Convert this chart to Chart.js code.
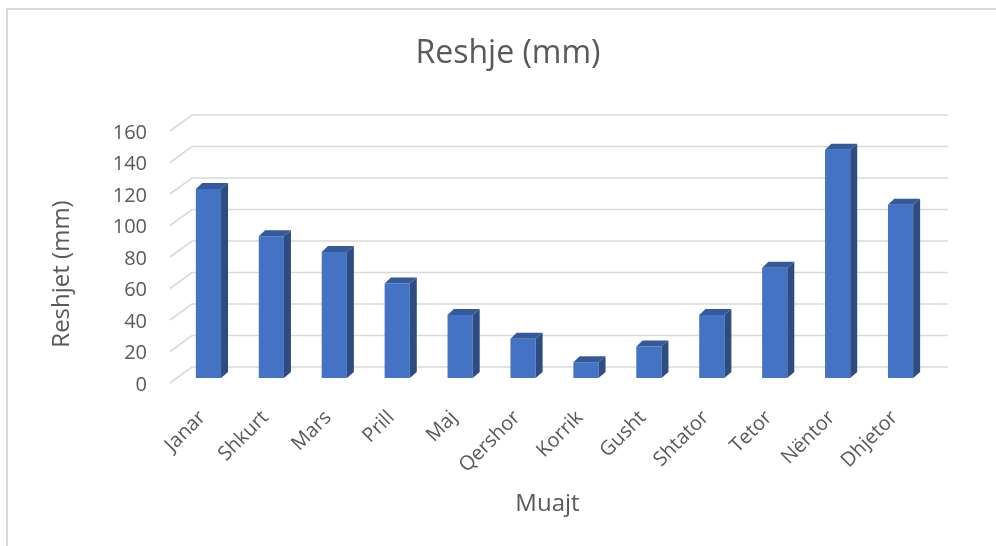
<!DOCTYPE html>
<html>
<head>
<meta charset="utf-8">
<script src="https://cdn.jsdelivr.net/npm/chart.js@4.4.1/dist/chart.umd.min.js"></script>
<style>
html, body { margin: 0; padding: 0; background: #fff; overflow: hidden; }
#kuadri { position: absolute; left: 6px; top: 8px; width: 1100px; height: 700px; border: 2px solid #d9d9d9; }
#grafiku { position: absolute; left: 0; top: 0; }
</style>
</head>
<body>
<div id="kuadri"></div>
<canvas id="grafiku" width="996" height="546"></canvas>
<script>
// Të dhënat
const muajt = ['Janar', 'Shkurt', 'Mars', 'Prill', 'Maj', 'Qershor', 'Korrik', 'Gusht', 'Shtator', 'Tetor', 'Nëntor', 'Dhjetor'];
const reshjet = [120, 90, 80, 60, 40, 25, 10, 20, 40, 70, 145, 110];
const shkallaY = [0, 20, 40, 60, 80, 100, 120, 140, 160];

const titulliX = 'Muajt';
const titulliY = 'Reshjet (mm)';
const ngjyraTekstit = '#595959';
const fonti = 'Open Sans';

// Efekti 3D: rrjeta në murin e pasmë, anët e shtyllave dhe titujt e boshteve
const pamje3D = {
    id: 'pamje3D',
    beforeDatasetsDraw(chart) {
        const { ctx, chartArea, scales: { y } } = chart;
        ctx.save();
        ctx.strokeStyle = '#d9d9d9';
        ctx.lineWidth = 1.6;
        y.ticks.forEach(t => {
            const p = y.getPixelForValue(t.value);
            ctx.beginPath();
            ctx.moveTo(chartArea.left - 7, p + 5);
            ctx.lineTo(chartArea.left + 15, p - 11);
            ctx.lineTo(chartArea.right + 16, p - 11);
            ctx.stroke();
        });
        ctx.restore();
    },
    afterDatasetsDraw(chart) {
        const ctx = chart.ctx;
        const dx = 7, dy = -6;
        ctx.save();
        chart.getDatasetMeta(0).data.forEach(bar => {
            const { x, y, base, width } = bar.getProps(['x', 'y', 'base', 'width'], true);
            const l = x - width / 2, r = x + width / 2;
            // ana anësore
            ctx.fillStyle = '#2e4c82';
            ctx.beginPath();
            ctx.moveTo(r, base);
            ctx.lineTo(r, y);
            ctx.lineTo(r + dx, y + dy);
            ctx.lineTo(r + dx, base + dy);
            ctx.closePath();
            ctx.fill();
            // maja
            ctx.fillStyle = '#345a9c';
            ctx.beginPath();
            ctx.moveTo(l, y);
            ctx.lineTo(r, y);
            ctx.lineTo(r + dx, y + dy);
            ctx.lineTo(l + dx * 0.9, y + dy);
            ctx.closePath();
            ctx.fill();
        });
        ctx.restore();
    },
    afterDraw(chart) {
        const { ctx, chartArea } = chart;
        ctx.save();
        ctx.fillStyle = ngjyraTekstit;
        ctx.font = '24px "' + fonti + '"';
        ctx.textAlign = 'center';
        ctx.textBaseline = 'middle';
        ctx.fillText(titulliX, chartArea.left - 7 + (chartArea.right - chartArea.left) / 2, 504);
        ctx.translate(62, (chartArea.top + chartArea.bottom) / 2 + 22);
        ctx.rotate(-Math.PI / 2);
        ctx.fillText(titulliY, 0, 0);
        ctx.restore();
    }
};

new Chart(document.getElementById('grafiku').getContext('2d'), {
    type: 'bar',
    data: {
        labels: muajt,
        datasets: [{
            label: titulliY,
            data: reshjet,
            backgroundColor: '#4472c4',
            borderWidth: 0,
            barPercentage: 0.4,
            categoryPercentage: 1
        }]
    },
    options: {
        responsive: false,
        animation: false,
        layout: { padding: { left: 20, right: 0, top: 0, bottom: 0 } },
        plugins: {
            legend: { display: false },
            tooltip: { enabled: false },
            title: {
                display: true,
                text: 'Reshje (mm)',
                color: ngjyraTekstit,
                font: { family: fonti, size: 32, weight: 'normal' },
                padding: { top: 35, bottom: 52.6 }
            }
        },
        scales: {
            x: {
                grid: { display: false, drawTicks: false },
                border: { display: false },
                ticks: {
                    color: ngjyraTekstit,
                    font: { family: fonti, size: 20 },
                    minRotation: 45,
                    maxRotation: 45,
                    padding: 28,
                    labelOffset: -6
                },
                afterFit: s => { s.height = 168; }
            },
            y: {
                min: shkallaY[0],
                max: shkallaY[shkallaY.length - 1],
                afterBuildTicks: s => { s.ticks = shkallaY.map(v => ({ value: v })); },
                grid: { display: false, drawTicks: false },
                border: { display: false },
                ticks: {
                    color: ngjyraTekstit,
                    font: { family: fonti, size: 20 },
                    padding: 30,
                    labelOffset: 7
                },
                afterFit: s => { s.width = 157; }
            },
            djathtas: {
                type: 'linear',
                position: 'right',
                grid: { display: false, drawTicks: false },
                border: { display: false },
                ticks: { display: false },
                afterFit: s => { s.width = 64; }
            }
        }
    },
    plugins: [pamje3D]
});
</script>
</body>
</html>
